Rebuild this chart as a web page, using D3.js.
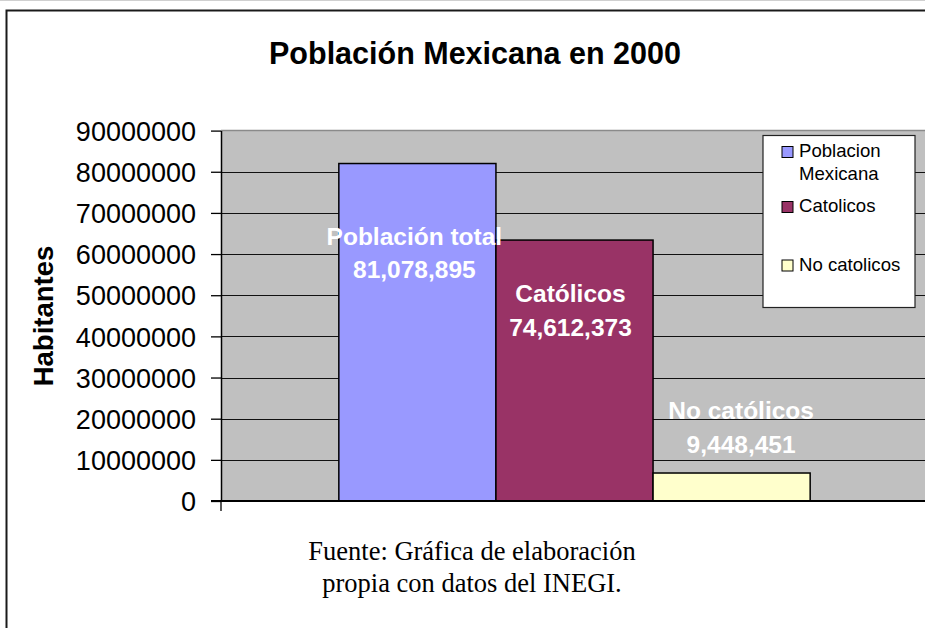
<!DOCTYPE html>
<html>
<head>
<meta charset="utf-8">
<script src="https://cdn.jsdelivr.net/npm/d3@7"></script>
<style>
  html, body { margin: 0; padding: 0; background: #ffffff; }
  svg { display: block; }
</style>
</head>
<body>
<svg id="chart" width="925" height="628"></svg>
<script>
// ---- data ----
const categories = ["2000"];
const seriesNames = ["Poblacion Mexicana", "Catolicos", "No catolicos"];
const seriesValues = [82000000, 63400000, 6800000];
const seriesColors = ["#9999FF", "#993366", "#FFFFCC"];
const labelNames = ["Población total", "Católicos", "No católicos"];
const labelNumbers = ["81,078,895", "74,612,373", "9,448,451"];
const legendLines = [["Poblacion", "Mexicana"], ["Catolicos"], ["No catolicos"]];
const yTicks = [0, 10000000, 20000000, 30000000, 40000000, 50000000, 60000000, 70000000, 80000000, 90000000];
const titleText = "Población Mexicana en 2000";
const yAxisTitle = "Habitantes";
const sourceLines = ["Fuente: Gráfica de elaboración", "propia con datos del INEGI."];

// ---- layout ----
const svg = d3.select("#chart");
const sans = "'Liberation Sans', Arial, Helvetica, sans-serif";
const serif = "'Liberation Serif', 'Times New Roman', serif";
const plot = { left: 221, right: 928, top: 130.6, bottom: 501 };

// outer frame
svg.append("line").attr("x1", 0).attr("x2", 925).attr("y1", 0.5).attr("y2", 0.5)
  .attr("stroke", "#d0d0d0").attr("stroke-width", 1);
svg.append("rect").attr("x", 6.5).attr("y", 10.5).attr("width", 940).attr("height", 640)
  .attr("fill", "none").attr("stroke", "#1a1a1a").attr("stroke-width", 2);

const x0 = d3.scaleBand().domain(categories).range([plot.left, plot.right])
  .paddingInner(1 / 3).paddingOuter(1 / 6);
const x1 = d3.scaleBand().domain(seriesNames).range([0, x0.bandwidth()]).padding(0);
const y = d3.scaleLinear().domain([0, 90000000]).range([plot.bottom, plot.top]);

// plot background
svg.append("rect")
  .attr("x", plot.left).attr("y", y(90000000))
  .attr("width", plot.right - plot.left).attr("height", y(0) - y(90000000))
  .attr("fill", "#C0C0C0");
svg.append("line")
  .attr("x1", plot.left).attr("x2", plot.right)
  .attr("y1", y(90000000)).attr("y2", y(90000000))
  .attr("stroke", "#8a8a8a").attr("stroke-width", 1.5);

// gridlines
svg.append("g").selectAll("line")
  .data(yTicks.filter(t => t > 0 && t < 90000000))
  .join("line")
  .attr("x1", plot.left).attr("x2", plot.right)
  .attr("y1", d => Math.round(y(d)) + 0.5).attr("y2", d => Math.round(y(d)) + 0.5)
  .attr("stroke", "#111").attr("stroke-width", 1);

// bars
const g = svg.append("g");
categories.forEach(cat => {
  g.selectAll("rect.bar")
    .data(seriesNames.map((s, i) => ({ s, v: seriesValues[i], c: seriesColors[i] })))
    .join("rect")
    .attr("class", "bar")
    .attr("x", d => x0(cat) + x1(d.s))
    .attr("y", d => y(d.v))
    .attr("width", x1.bandwidth())
    .attr("height", d => y(0) - y(d.v))
    .attr("fill", d => d.c)
    .attr("stroke", "#000").attr("stroke-width", 1.5);
});

// y axis
const yAxis = d3.axisLeft(y).tickValues(yTicks).tickSize(10).tickSizeOuter(0)
  .tickPadding(15).tickFormat(d3.format("d"));
const ag = svg.append("g").attr("transform", `translate(${plot.left},0)`).call(yAxis);
ag.select(".domain").attr("stroke", "#000").attr("stroke-width", 1.5);
ag.selectAll(".tick line").attr("stroke", "#000").attr("stroke-width", 1.3);
ag.selectAll(".tick text")
  .attr("font-family", sans).attr("font-size", 27).attr("fill", "#000")
  .attr("dy", "0.36em");

// x axis
svg.append("line")
  .attr("x1", plot.left - 10).attr("x2", plot.right)
  .attr("y1", y(0)).attr("y2", y(0))
  .attr("stroke", "#000").attr("stroke-width", 1.8);
svg.append("line")
  .attr("x1", plot.left).attr("x2", plot.left)
  .attr("y1", y(0)).attr("y2", y(0) + 10)
  .attr("stroke", "#000").attr("stroke-width", 1.3);

// data labels (manually placed in the original)
const labelOffsets = [[-3, 81], [-4, 62], [9.5, -54]];
const lg = svg.append("g");
seriesNames.forEach((s, i) => {
  const cx = x0(categories[0]) + x1(s) + x1.bandwidth() / 2 + labelOffsets[i][0];
  const by = y(seriesValues[i]) + labelOffsets[i][1];
  const t = lg.append("text")
    .attr("x", cx).attr("y", by)
    .attr("text-anchor", "middle")
    .attr("font-family", sans).attr("font-weight", "bold")
    .attr("font-size", 24.5).attr("fill", "#fff");
  t.append("tspan").attr("x", cx).attr("dy", 0).text(labelNames[i]);
  t.append("tspan").attr("x", cx).attr("dy", 33.5).text(labelNumbers[i]);
});

// legend
const leg = svg.append("g");
leg.append("rect").attr("x", 763).attr("y", 135.5).attr("width", 152).attr("height", 172)
  .attr("fill", "#fff").attr("stroke", "#222").attr("stroke-width", 1.2);
const legRowY = [157, 212, 270.5];
seriesNames.forEach((s, i) => {
  leg.append("rect")
    .attr("x", 782).attr("y", legRowY[i] - 10.5).attr("width", 11).attr("height", 11)
    .attr("fill", seriesColors[i]).attr("stroke", "#000").attr("stroke-width", 1);
  const t = leg.append("text")
    .attr("x", 799).attr("y", legRowY[i])
    .attr("font-family", sans).attr("font-size", 18.6).attr("fill", "#000");
  legendLines[i].forEach((ln, j) => {
    t.append("tspan").attr("x", 799).attr("dy", j === 0 ? 0 : 23).text(ln);
  });
});

// title
svg.append("text")
  .attr("x", 475).attr("y", 64)
  .attr("text-anchor", "middle")
  .attr("font-family", sans).attr("font-weight", "bold").attr("font-size", 30.5)
  .attr("fill", "#000").text(titleText);

// y axis title
svg.append("text")
  .attr("transform", "translate(53,316) rotate(-90)")
  .attr("text-anchor", "middle")
  .attr("font-family", sans).attr("font-weight", "bold").attr("font-size", 27.5)
  .attr("fill", "#000").text(yAxisTitle);

// source note
const src = svg.append("text")
  .attr("text-anchor", "middle")
  .attr("font-family", serif).attr("font-size", 26.5).attr("fill", "#000");
sourceLines.forEach((ln, i) => {
  src.append("tspan").attr("x", 472).attr("y", 560 + i * 32).text(ln);
});
</script>
</body>
</html>
